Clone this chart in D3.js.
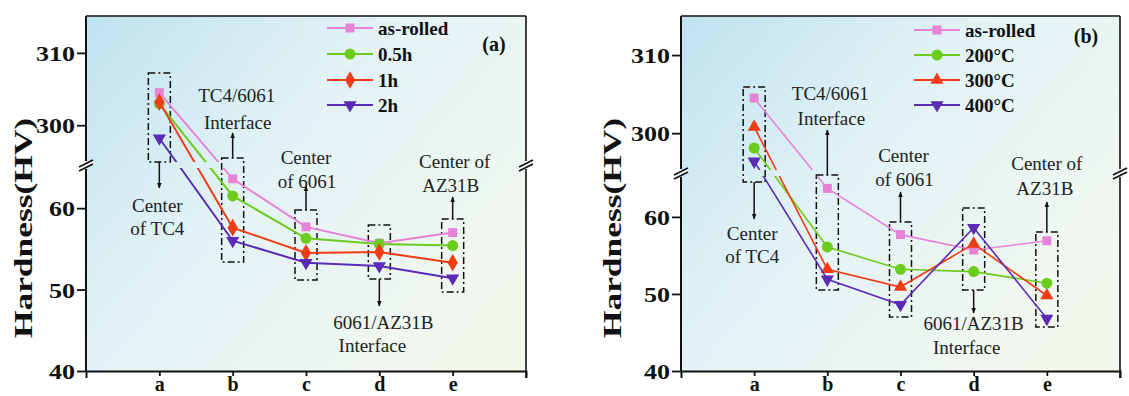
<!DOCTYPE html>
<html><head><meta charset="utf-8">
<script src="https://cdn.jsdelivr.net/npm/d3@7"></script>
<style>body{margin:0;background:#fff}svg{display:block}</style>
</head><body>
<svg id="chart" width="1129" height="396"></svg>
<script>
// ---------- data ----------
const categories = ["a","b","c","d","e"];
const upperTicks = [300, 310];
const lowerTicks = [40, 50, 60];
const seriesNamesA = ["as-rolled","0.5h","1h","2h"];
const seriesNamesB = ["as-rolled","200°C","300°C","400°C"];
const aAsRolled = [304.5, 63.6, 57.7, 55.7, 57.0];
const a05h      = [303.0, 61.5, 56.3, 55.6, 55.4];
const a1h       = [303.2, 57.6, 54.5, 54.6, 53.3];
const a2h       = [298.2, 56.0, 53.3, 52.9, 51.4];
const bAsRolled = [304.5, 63.7, 57.7, 55.7, 56.9];
const b200      = [298.1, 56.1, 53.2, 52.9, 51.4];
const b300      = [300.8, 53.2, 50.9, 56.5, 49.8];
const b400      = [296.4, 51.9, 48.6, 58.6, 46.8];
const panelLabels = ["(a)", "(b)"];
const annoTexts = [["Center","of TC4"],["TC4/6061","Interface"],["Center","of 6061"],["6061/AZ31B","Interface"],["Center of","AZ31B"]];

// ---------- layout ----------
const svg = d3.select("#chart");
const colors = ["#e683d9","#6ccc1e","#f03c16","#5a2bb5"];
const serif = "'Liberation Serif','Times New Roman',serif";

const defs = svg.append("defs");
const grad = defs.append("linearGradient").attr("id","bg").attr("x1","0").attr("y1","0").attr("x2","1").attr("y2","0.7");
grad.append("stop").attr("offset","0").attr("stop-color","#bfe2f0");
grad.append("stop").attr("offset","0.45").attr("stop-color","#e2f2f5");
grad.append("stop").attr("offset","1").attr("stop-color","#f2f8ee");
const mk = defs.append("marker").attr("id","arr").attr("viewBox","0 0 10 10").attr("refX",9).attr("refY",5)
  .attr("markerWidth",6).attr("markerHeight",6).attr("orient","auto-start-reverse").attr("markerUnits","userSpaceOnUse");
mk.append("path").attr("d","M0,1 L10,5 L0,9 Z").attr("fill","#111");

const panels = [
  {x0:86, x1:526, top:16, bottom:371, brk:165, up:[294.5,315.1], low:[40,65.3], names:seriesNamesA,
   data:[aAsRolled,a05h,a1h,a2h], syms:["square","circle","diamond","down"], lw:2,
   legX:327, legY:[28,54,80,105], lab:panelLabels[0], labX:494, labY:44, titleX:23,
   anno:[{top:73,bottom:162,dir:"down",tip:188,ly:[205,228],dx:[-2,-2]},
         {top:158,bottom:262,dir:"up",tip:133,ly:[95,122],dx:[4,5]},
         {top:210,bottom:280,dir:"up",tip:186,ly:[157,181],dx:[0,1]},
         {top:225,bottom:279,dir:"down",tip:306,ly:[322,345],dx:[4,-7]},
         {top:219,bottom:292,dir:"up",tip:197,ly:[161,185],dx:[2,-2]}]},
  {x0:681, x1:1120, top:16, bottom:371, brk:173, up:[294.9,315], low:[40,65.7], names:seriesNamesB,
   data:[bAsRolled,b200,b300,b400], syms:["square","circle","up","down"], lw:1.6,
   legX:914, legY:[30,55,80,105], lab:panelLabels[1], labX:1086, labY:36, titleX:612,
   anno:[{top:87,bottom:182,dir:"down",tip:219,ly:[233,256],dx:[-2,-2]},
         {top:175,bottom:290,dir:"up",tip:130,ly:[93,118],dx:[3,4]},
         {top:222,bottom:317,dir:"up",tip:192,ly:[155,179],dx:[3,4]},
         {top:208,bottom:290,dir:"down",tip:313,ly:[323,347],dx:[0,-7]},
         {top:232,bottom:327,dir:"up",tip:202,ly:[163,188],dx:[0,-2]}]}
];

function symPath(kind, size){
  if(kind==="square") return d3.symbol(d3.symbolSquare, size||80)();
  if(kind==="circle") return d3.symbol(d3.symbolCircle, size||95)();
  if(kind==="diamond") return d3.symbol(d3.symbolDiamond, size||90)();
  return d3.symbol(d3.symbolTriangle, size||75)();
}
function symTransform(kind,x,y){ return `translate(${x},${y})` + (kind==="down"?" rotate(180)":""); }

panels.forEach((p,pi)=>{
  const g = svg.append("g");
  const x = d3.scaleLinear().domain([0,6]).range([p.x0,p.x1]);
  const yU = d3.scaleLinear().domain(p.up).range([p.brk,p.top]);
  const yL = d3.scaleLinear().domain(p.low).range([p.bottom,p.brk]);
  const y = v => v>100 ? yU(v) : yL(v);

  g.append("rect").attr("x",p.x0).attr("y",p.top).attr("width",p.x1-p.x0).attr("height",p.bottom-p.top).attr("fill","url(#bg)");

  // clip for series lines (gap at break)
  const cid = "clip"+pi;
  const cp = defs.append("clipPath").attr("id",cid);
  cp.append("rect").attr("x",p.x0).attr("y",p.top).attr("width",p.x1-p.x0).attr("height",p.brk-3-p.top);
  cp.append("rect").attr("x",p.x0).attr("y",p.brk+3).attr("width",p.x1-p.x0).attr("height",p.bottom-p.brk-3);

  // annotations
  p.anno.forEach((a,i)=>{
    const cx = x(i+1);
    g.append("rect").attr("x",cx-11).attr("y",a.top).attr("width",22).attr("height",a.bottom-a.top)
      .attr("fill","none").attr("stroke","#111").attr("stroke-width",1.5).attr("stroke-dasharray","7,3,2,3");
    const y0 = a.dir==="up"? a.top : a.bottom;
    g.append("line").attr("x1",cx).attr("x2",cx).attr("y1",y0).attr("y2",a.tip)
      .attr("stroke","#111").attr("stroke-width",1.5).attr("marker-end","url(#arr)");
    annoTexts[i].forEach((t,j)=>{
      g.append("text").attr("x",cx+a.dx[j]).attr("y",a.ly[j]+6.5).attr("text-anchor","middle")
        .attr("font-family",serif).attr("font-size",19).attr("fill","#222").text(t);
    });
  });

  // series
  const line = d3.line().x((d,i)=>x(i+1)).y(d=>y(d));
  p.data.forEach((vals,si)=>{
    g.append("path").attr("d",line(vals)).attr("fill","none").attr("stroke",colors[si])
      .attr("stroke-width",p.lw).attr("clip-path",`url(#${cid})`);
    g.selectAll(null).data(vals).enter().append("path")
      .attr("d",symPath(p.syms[si])).attr("transform",(d,i)=>symTransform(p.syms[si],x(i+1),y(d)))
      .attr("fill",colors[si]);
  });

  // frame
  const fr = g.append("g").attr("stroke","#111").attr("fill","none");
  fr.append("line").attr("x1",p.x0).attr("x2",p.x1).attr("y1",p.top).attr("y2",p.top).attr("stroke-width",1.6);
  fr.append("line").attr("x1",p.x1).attr("x2",p.x1).attr("y1",p.top).attr("y2",p.brk-4).attr("stroke-width",1.6);
  fr.append("line").attr("x1",p.x1).attr("x2",p.x1).attr("y1",p.brk+4).attr("y2",p.bottom+7).attr("stroke-width",1.6);

  // y axes
  const axU = g.append("g").attr("transform",`translate(${p.x0},0)`)
    .call(d3.axisLeft(yU).tickValues(upperTicks).tickSize(9).tickSizeOuter(0).tickPadding(2));
  const axL = g.append("g").attr("transform",`translate(${p.x0},0)`)
    .call(d3.axisLeft(yL).tickValues(lowerTicks).tickSize(9).tickSizeOuter(0).tickPadding(2));
  [axU,axL].forEach(ax=>{
    ax.select(".domain").attr("stroke","#111").attr("stroke-width",2);
    ax.selectAll(".tick line").attr("stroke","#111").attr("stroke-width",1.8);
    ax.selectAll(".tick text").attr("font-family",serif).attr("font-weight","bold").attr("font-size",21)
      .attr("fill","#111").attr("dy","0.36em")
      .attr("textLength",d=>String(d).length*13).attr("lengthAdjust","spacingAndGlyphs");
  });
  axU.select(".domain").attr("d",`M0,${p.brk-4}V${p.top}`);
  axL.select(".domain").attr("d",`M0,${p.bottom}V${p.brk+4}`);

  // x axis
  const ax = g.append("g").attr("transform",`translate(0,${p.bottom})`)
    .call(d3.axisBottom(x).tickValues([1,2,3,4,5]).tickFormat(d=>categories[d-1]).tickSize(5).tickSizeOuter(7).tickPadding(1));
  ax.select(".domain").attr("stroke","#111").attr("stroke-width",2);
  ax.selectAll(".tick line").attr("stroke","#111").attr("stroke-width",1.8);
  ax.selectAll(".tick text").attr("font-family",serif).attr("font-weight","bold").attr("font-size",20).attr("fill","#111");

  // break marks
  [p.x0,p.x1].forEach(bx=>{
    g.append("polygon").attr("points",`${bx-7},${p.brk+2} ${bx+7},${p.brk-5} ${bx+7},${p.brk-1} ${bx-7},${p.brk+6}`).attr("fill","#fff");
    g.append("line").attr("x1",bx-7).attr("y1",p.brk+2).attr("x2",bx+7).attr("y2",p.brk-5).attr("stroke","#111").attr("stroke-width",1.6);
    g.append("line").attr("x1",bx-7).attr("y1",p.brk+6).attr("x2",bx+7).attr("y2",p.brk-1).attr("stroke","#111").attr("stroke-width",1.6);
  });

  // title
  g.append("text").attr("transform",`translate(${p.titleX},228) rotate(-90)`).attr("text-anchor","middle")
    .attr("dominant-baseline","central").attr("font-family",serif).attr("font-weight","bold").attr("font-size",26)
    .attr("fill","#111").attr("textLength",220).attr("lengthAdjust","spacingAndGlyphs").text("Hardness(HV)");

  // legend
  p.names.forEach((n,si)=>{
    const ly = p.legY[si];
    g.append("line").attr("x1",p.legX).attr("x2",p.legX+46).attr("y1",ly).attr("y2",ly).attr("stroke",colors[si]).attr("stroke-width",2);
    g.append("path").attr("d",symPath(p.syms[si])).attr("transform",symTransform(p.syms[si],p.legX+23,ly)).attr("fill",colors[si]);
    g.append("text").attr("x",p.legX+51).attr("y",ly+6.5).attr("font-family",serif).attr("font-weight","bold")
      .attr("font-size",19).attr("fill","#111").text(n);
  });
  g.append("text").attr("x",p.labX).attr("y",p.labY+6.5).attr("text-anchor","middle").attr("font-family",serif)
    .attr("font-weight","bold").attr("font-size",20).attr("fill","#111").text(p.lab);
});
</script>
</body></html>
